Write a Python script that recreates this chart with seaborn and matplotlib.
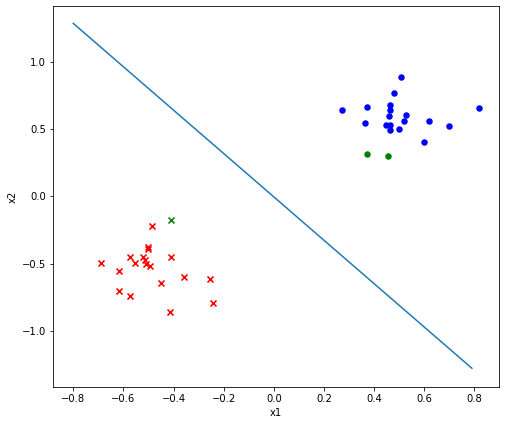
import numpy as np
import pandas as pd
import matplotlib
matplotlib.use('Agg')
import matplotlib.pyplot as plt
import seaborn as sns

# class +1 (blue circles)
pos_x1 = [0.508, 0.480, 0.273, 0.373, 0.818, 0.464, 0.464, 0.460, 0.528,
          0.520, 0.365, 0.449, 0.465, 0.464, 0.500, 0.619, 0.699, 0.600]
pos_x2 = [0.888, 0.769, 0.642, 0.665, 0.657, 0.684, 0.645, 0.600, 0.607,
          0.565, 0.545, 0.533, 0.533, 0.496, 0.501, 0.560, 0.523, 0.404]

# class -1 (red crosses)
neg_x1 = [-0.690, -0.618, -0.618, -0.574, -0.574, -0.554, -0.523, -0.515, -0.509,
          -0.495, -0.503, -0.503, -0.487, -0.452, -0.412, -0.416, -0.359, -0.256, -0.244]
neg_x2 = [-0.498, -0.555, -0.704, -0.451, -0.744, -0.496, -0.451, -0.473, -0.501,
          -0.520, -0.374, -0.389, -0.222, -0.645, -0.453, -0.863, -0.603, -0.617, -0.796]

# highlighted points (green)
pos_g_x1 = [0.373, 0.456]
pos_g_x2 = [0.314, 0.304]
neg_g_x1 = [-0.412]
neg_g_x2 = [-0.178]

# decision boundary
line_x1 = [-0.80, 0.79]
line_x2 = [1.29, -1.28]

fig, ax = plt.subplots(figsize=(506/72, 425/72), dpi=72)
fig.subplots_adjust(left=0.1047, right=0.986, top=0.986, bottom=0.0894)

sns.lineplot(x=line_x1, y=line_x2, color='#1f77b4', linewidth=1.5, ax=ax)
sns.scatterplot(x=pos_x1, y=pos_x2, color='b', marker='o', s=42, linewidth=0, ax=ax)
sns.scatterplot(x=neg_x1, y=neg_x2, color='r', marker='x', s=36, linewidth=1.6, ax=ax)
sns.scatterplot(x=pos_g_x1, y=pos_g_x2, color='g', marker='o', s=42, linewidth=0, ax=ax)
sns.scatterplot(x=neg_g_x1, y=neg_g_x2, color='g', marker='x', s=36, linewidth=1.6, ax=ax)

ax.set_xticks([-0.8, -0.6, -0.4, -0.2, 0.0, 0.2, 0.4, 0.6, 0.8])
ax.set_yticks([-1.0, -0.5, 0.0, 0.5, 1.0])
ax.set_xlim(-0.881, 0.898)
ax.set_ylim(-1.42, 1.42)
ax.set_xlabel('x1')
ax.set_ylabel('x2')

fig.savefig('out.png', dpi=72)
plt.close(fig)
